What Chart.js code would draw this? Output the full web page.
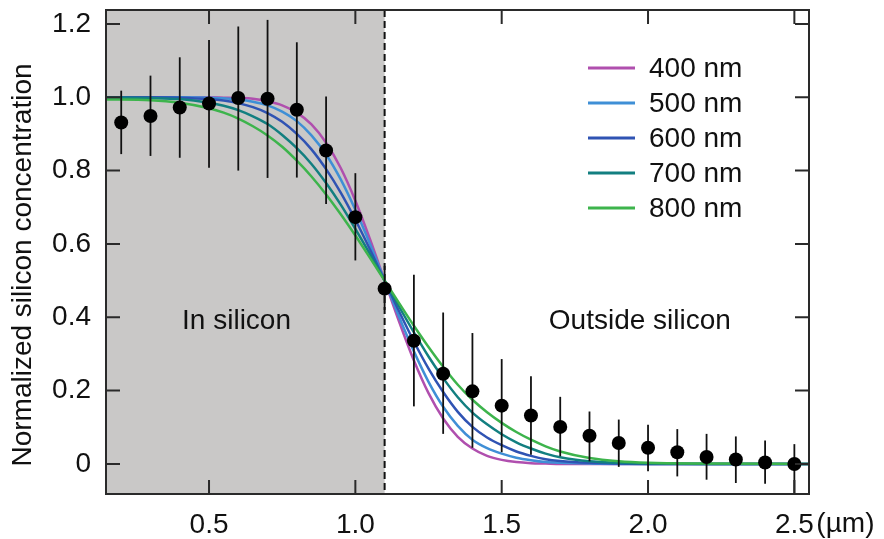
<!DOCTYPE html>
<html>
<head>
<meta charset="utf-8">
<script src="https://cdn.jsdelivr.net/npm/chart.js@4/dist/chart.umd.min.js"></script>
<style>
  html, body { margin: 0; padding: 0; background: #fff; }
  #chart__wrap { width: 884px; height: 539px; }
</style>
</head>
<body>
<div id="chart__wrap"><canvas id="chart-canvas" width="884" height="539"></canvas></div>
<script>
// measured points (x in µm)
const pointX = [0.2, 0.3, 0.4, 0.5, 0.6, 0.7, 0.8, 0.9, 1.0, 1.1, 1.2, 1.3,
  1.4, 1.5, 1.6, 1.7, 1.8, 1.9, 2.0, 2.1, 2.2, 2.3, 2.4, 2.5];
const pointY = [0.931, 0.949, 0.972, 0.983, 0.998, 0.996, 0.966, 0.855, 0.673, 0.478, 0.336, 0.246,
  0.198, 0.159, 0.132, 0.101, 0.077, 0.057, 0.044, 0.032, 0.019, 0.012, 0.004, 0.000];
const errHigh = [1.018, 1.059, 1.109, 1.156, 1.193, 1.211, 1.150, 1.002, 0.793, 0.540, 0.516, 0.413,
  0.357, 0.286, 0.239, 0.183, 0.143, 0.121, 0.107, 0.095, 0.082, 0.075, 0.064, 0.054];
const errLow = [0.845, 0.840, 0.835, 0.808, 0.800, 0.780, 0.781, 0.709, 0.555, 0.420, 0.157, 0.082,
  0.044, 0.032, 0.025, 0.021, 0.007, -0.008, -0.020, -0.034, -0.043, -0.052, -0.054, -0.079];

// simulated profiles
const curveX = [0.15, 0.3, 0.4, 0.5, 0.55, 0.6, 0.65, 0.7, 0.75, 0.8, 0.85, 0.9, 0.95, 1.0, 1.05, 1.1,
  1.15, 1.2, 1.25, 1.3, 1.35, 1.4, 1.45, 1.5, 1.55, 1.6, 1.65, 1.7, 1.8, 1.9, 2.0, 2.2, 2.55];
const curve400 = [1.000, 1.000, 1.000, 1.000, 0.999, 0.998, 0.996, 0.989, 0.978, 0.958, 0.926, 0.876, 0.807, 0.718, 0.613, 0.500,
  0.387, 0.282, 0.193, 0.124, 0.074, 0.042, 0.022, 0.011, 0.005, 0.002, 0.001, 0.000, 0, 0, 0, 0, 0];
const curve500 = [1.000, 1.000, 1.000, 0.999, 0.997, 0.994, 0.988, 0.978, 0.961, 0.935, 0.896, 0.844, 0.776, 0.693, 0.600, 0.500,
  0.400, 0.307, 0.224, 0.156, 0.104, 0.066, 0.043, 0.028, 0.017, 0.010, 0.005, 0.003, 0.001, 0, 0, 0, 0];
const curve600 = [1.000, 1.000, 0.999, 0.995, 0.991, 0.984, 0.973, 0.957, 0.933, 0.900, 0.858, 0.804, 0.740, 0.666, 0.585, 0.500,
  0.415, 0.334, 0.260, 0.196, 0.142, 0.101, 0.072, 0.051, 0.034, 0.022, 0.013, 0.008, 0.003, 0.001, 0, 0, 0];
const curve700 = [1.000, 0.998, 0.995, 0.985, 0.977, 0.965, 0.948, 0.927, 0.897, 0.861, 0.818, 0.766, 0.707, 0.641, 0.572, 0.500,
  0.428, 0.359, 0.293, 0.234, 0.182, 0.140, 0.108, 0.081, 0.059, 0.042, 0.028, 0.018, 0.007, 0.003, 0.001, 0, 0];
const curve800 = [0.994, 0.992, 0.985, 0.970, 0.958, 0.942, 0.921, 0.896, 0.865, 0.827, 0.784, 0.735, 0.681, 0.623, 0.562, 0.500,
  0.438, 0.377, 0.319, 0.265, 0.216, 0.175, 0.141, 0.112, 0.087, 0.066, 0.048, 0.034, 0.016, 0.007, 0.003, 0.001, 0];

const curveLabels = ["400 nm", "500 nm", "600 nm", "700 nm", "800 nm"];
const curveColors = ["#b04fae", "#3f8fd6", "#2f53b3", "#127f80", "#3db44c"];
const curveValues = [curve400, curve500, curve600, curve700, curve800];

const xTicks = [0.5, 1.0, 1.5, 2.0, 2.5];
const xTickLabels = ["0.5", "1.0", "1.5", "2.0", "2.5"];
const yTicks = [0, 0.2, 0.4, 0.6, 0.8, 1.0, 1.2];
const yTickLabels = ["0", "0.2", "0.4", "0.6", "0.8", "1.0", "1.2"];

const boundaryX = 1.1;
const regionLabels = ["In silicon", "Outside silicon"];
const regionLabelX = [0.594, 1.972];
const regionLabelY = 0.389;

const FONT = "'Liberation Sans', Arial, Helvetica, sans-serif";
const FONT_SIZE = 28;
const TEXT = "#111";

const datasets = curveValues.map((vals, i) => ({
  label: curveLabels[i],
  data: curveX.map((x, j) => ({ x: x, y: vals[j] })),
  borderColor: curveColors[i],
  borderWidth: 2.5,
  pointRadius: 0,
  cubicInterpolationMode: "monotone",
  fill: false,
  order: 5 - i,
}));

datasets.push({
  label: "data",
  data: pointX.map((x, j) => ({ x: x, y: pointY[j] })),
  showLine: false,
  pointRadius: 7,
  pointBackgroundColor: "#000",
  pointBorderWidth: 0,
  order: 0,
});
const POINTS = datasets.length - 1;

const decorations = {
  id: "decorations",
  beforeDatasetsDraw(chart) {
    const { ctx, chartArea: a, scales: { x, y } } = chart;
    const xb = x.getPixelForValue(boundaryX);
    ctx.save();
    ctx.fillStyle = "#c9c8c7";
    ctx.fillRect(a.left, a.top, xb - a.left, a.bottom - a.top);
    ctx.strokeStyle = "#111";
    ctx.lineWidth = 2;
    ctx.setLineDash([7, 4]);
    ctx.beginPath();
    ctx.moveTo(xb, a.top);
    ctx.lineTo(xb, a.bottom);
    ctx.stroke();
    ctx.restore();

    ctx.save();
    ctx.fillStyle = TEXT;
    ctx.font = `${FONT_SIZE}px ${FONT}`;
    ctx.textAlign = "center";
    ctx.textBaseline = "middle";
    regionLabels.forEach((t, i) => {
      ctx.fillText(t, x.getPixelForValue(regionLabelX[i]), y.getPixelForValue(regionLabelY));
    });
    ctx.restore();
  },
  beforeDatasetDraw(chart, args) {
    if (args.index !== POINTS) return;
    const { ctx, chartArea: a, scales: { x, y } } = chart;
    ctx.save();
    ctx.beginPath();
    ctx.rect(a.left, a.top, a.right - a.left, a.bottom - a.top);
    ctx.clip();
    ctx.strokeStyle = "#111";
    ctx.lineWidth = 1.8;
    pointX.forEach((px, j) => {
      const xp = x.getPixelForValue(px);
      ctx.beginPath();
      ctx.moveTo(xp, y.getPixelForValue(errHigh[j]));
      ctx.lineTo(xp, y.getPixelForValue(errLow[j]));
      ctx.stroke();
    });
    ctx.restore();
  },
  afterDraw(chart) {
    const { ctx, chartArea: a, scales: { x, y } } = chart;
    const tl = 14;
    ctx.save();
    ctx.strokeStyle = "#2a2a2a";
    ctx.lineWidth = 2;
    ctx.strokeRect(a.left, a.top, a.right - a.left, a.bottom - a.top);
    ctx.beginPath();
    xTicks.forEach((v) => {
      const p = x.getPixelForValue(v);
      ctx.moveTo(p, a.bottom); ctx.lineTo(p, a.bottom - tl);
      ctx.moveTo(p, a.top); ctx.lineTo(p, a.top + tl);
    });
    yTicks.forEach((v) => {
      const p = y.getPixelForValue(v);
      ctx.moveTo(a.left, p); ctx.lineTo(a.left + tl, p);
      ctx.moveTo(a.right, p); ctx.lineTo(a.right - tl, p);
    });
    ctx.stroke();

    // legend
    ctx.font = `${FONT_SIZE}px ${FONT}`;
    ctx.textBaseline = "middle";
    ctx.textAlign = "left";
    ctx.lineWidth = 3;
    curveLabels.forEach((t, i) => {
      const ly = 68 + i * 35;
      ctx.strokeStyle = curveColors[i];
      ctx.beginPath();
      ctx.moveTo(588, ly);
      ctx.lineTo(635, ly);
      ctx.stroke();
      ctx.fillStyle = TEXT;
      ctx.fillText(t, 649, ly + 1);
    });

    // unit and y title
    ctx.fillText("(µm)", x.getPixelForValue(2.5) + 22, 524);
    ctx.translate(23, 265);
    ctx.rotate(-Math.PI / 2);
    ctx.textAlign = "center";
    ctx.fillText("Normalized silicon concentration", 0, 0);
    ctx.restore();
  },
};

const config = {
  type: "line",
  data: { datasets: datasets },
  options: {
    responsive: false,
    devicePixelRatio: 1,
    animation: false,
    layout: { padding: { left: 0, right: 75, top: 10, bottom: 0 } },
    plugins: { legend: { display: false }, tooltip: { enabled: false } },
    scales: {
      x: {
        type: "linear",
        min: 0.148,
        max: 2.55,
        grid: { display: false, drawTicks: false },
        border: { display: false },
        afterBuildTicks: (s) => { s.ticks = xTicks.map((v) => ({ value: v })); },
        afterFit: (s) => { s.height = 45; s.paddingLeft = 0; s.paddingRight = 0; },
        ticks: {
          autoSkip: false,
          maxRotation: 0,
          padding: 14,
          color: TEXT,
          font: { family: FONT, size: FONT_SIZE },
          callback: (v, i) => xTickLabels[i],
        },
      },
      y: {
        min: -0.082,
        max: 1.238,
        grid: { display: false, drawTicks: false },
        border: { display: false },
        afterBuildTicks: (s) => { s.ticks = yTicks.map((v) => ({ value: v })); },
        afterFit: (s) => { s.width = 106; s.paddingTop = 0; s.paddingBottom = 0; },
        ticks: {
          autoSkip: false,
          padding: 15,
          color: TEXT,
          font: { family: FONT, size: FONT_SIZE },
          callback: (v, i) => yTickLabels[i],
        },
      },
    },
  },
  plugins: [decorations],
};

const myChart = new Chart(document.getElementById("chart-canvas"), config);
</script>
</body>
</html>
